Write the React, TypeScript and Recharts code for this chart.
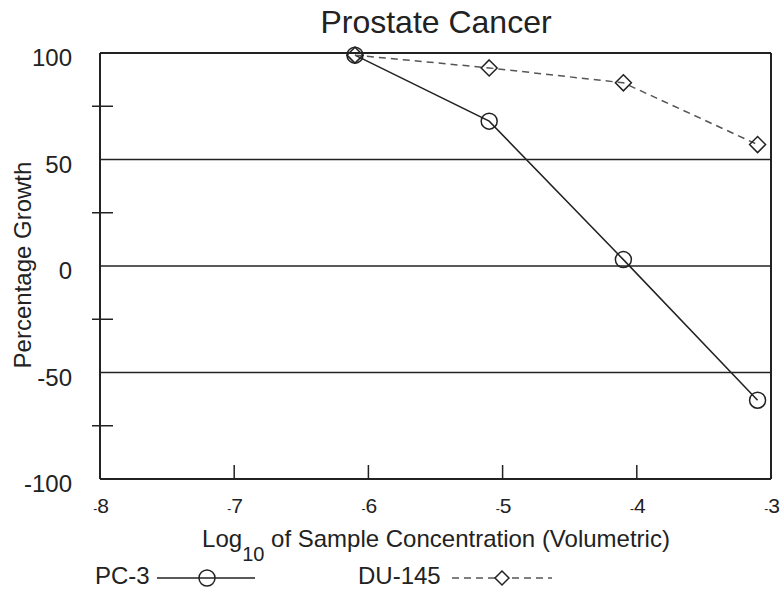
import { LineChart, Line, XAxis, YAxis, ReferenceLine, Legend } from 'recharts';

const concentrations = [-6.1, -5.1, -4.1, -3.1];
const pc3Growth = [99, 68, 3, -63];
const du145Growth = [99, 93, 86, 57];

const xTicks = [-8, -7, -6, -5, -4, -3];
const yTicks = [-100, -75, -50, -25, 0, 25, 50, 75, 100];
const gridValues = [100, 50, 0, -50, -100];

const data = concentrations.map((c, i) => ({ conc: c, pc3: pc3Growth[i], du145: du145Growth[i] }));

const FONT = '"Liberation Sans", Arial, sans-serif';
const INK = '#222';

const YTick = ({ x, y, payload }: any) => {
  const v = payload.value;
  const labelled = v % 50 === 0;
  return (
    <g>
      {!labelled && <line x1={x - 8} x2={x + 13} y1={y} y2={y} stroke={INK} strokeWidth={1.5} />}
      {labelled && (
        <text x={x - 28} y={y + 13} textAnchor="end" fontSize={24} fontFamily={FONT} fill={INK}>
          {v}
        </text>
      )}
    </g>
  );
};

const XTick = ({ x, y, payload }: any) => {
  const v = payload.value;
  const inner = v > -8 && v < -3;
  return (
    <g>
      {inner && <line x1={x} x2={x} y1={y - 14} y2={y} stroke={INK} strokeWidth={1.5} />}
      <text x={x + 1} y={y + 34} textAnchor="middle" fontSize={21} fontFamily={FONT} fill={INK}>
        <tspan fontSize={12}>-</tspan>
        <tspan>{Math.abs(v)}</tspan>
      </text>
    </g>
  );
};

const TopTick = ({ x, y, payload }: any) => {
  const v = payload.value;
  if (v <= -8 || v >= -3) return <g />;
  return <line x1={x} x2={x} y1={y} y2={y + 13} stroke={INK} strokeWidth={1.5} />;
};

const XLabel = () => (
  <text x={436} y={547} textAnchor="middle" fontSize={24} fontFamily={FONT} fill={INK}>
    Log
    <tspan fontSize={20} dy={14}>10</tspan>
    <tspan dy={-14}> of Sample Concentration (Volumetric)</tspan>
  </text>
);

const YLabel = () => (
  <text
    x={31}
    y={265}
    transform="rotate(-90 31 265)"
    textAnchor="middle"
    fontSize={24}
    fontFamily={FONT}
    fill={INK}
  >
    Percentage Growth
  </text>
);

const Diamond = ({ cx, cy }: any) => (
  <path d={`M${cx} ${cy - 8} L${cx + 8} ${cy} L${cx} ${cy + 8} L${cx - 8} ${cy} Z`} fill="none" stroke={INK} strokeWidth={1.5} />
);

const LegendContent = () => (
  <svg width={782} height={32}>
    <text x={95} y={24} fontSize={24} fontFamily={FONT} fill={INK}>PC-3</text>
    <line x1={157} x2={255} y1={18} y2={18} stroke={INK} strokeWidth={1.5} />
    <circle cx={207} cy={18} r={8} fill="none" stroke={INK} strokeWidth={1.5} />
    <text x={358} y={24} fontSize={24} fontFamily={FONT} fill={INK}>DU-145</text>
    <line x1={452} x2={552} y1={18} y2={18} stroke="#555" strokeWidth={1.5} strokeDasharray="7 5" />
    <path d="M502 11 L509 18 L502 25 L495 18 Z" fill="#fff" stroke={INK} strokeWidth={1.5} />
  </svg>
);

export default function App() {
  return (
    <div style={{ position: 'absolute', left: 0, top: 0, width: 782, height: 592, background: '#fff' }}>
      <div
        style={{
          position: 'absolute',
          left: 0,
          width: 872,
          top: 4,
          textAlign: 'center',
          fontFamily: FONT,
          fontSize: 32,
          color: INK,
        }}
      >
        Prostate Cancer
      </div>
      <LineChart width={782} height={592} data={data} margin={{ top: 53, right: 11, left: 0, bottom: 0 }}>
        <XAxis
          dataKey="conc"
          type="number"
          domain={[-8, -3]}
          ticks={xTicks}
          interval={0}
          height={113}
          tickLine={false}
          tickSize={0}
          tickMargin={0}
          axisLine={false}
          tick={<XTick />}
          label={<XLabel />}
        />
        <XAxis
          xAxisId="top"
          orientation="top"
          type="number"
          domain={[-8, -3]}
          ticks={xTicks}
          interval={0}
          height={0}
          tickLine={false}
          tickSize={0}
          tickMargin={0}
          axisLine={false}
          tick={<TopTick />}
        />
        <YAxis
          type="number"
          domain={[-100, 100]}
          ticks={yTicks}
          interval={0}
          width={100}
          tickLine={false}
          tickSize={0}
          tickMargin={0}
          axisLine={false}
          tick={<YTick />}
          label={<YLabel />}
        />
        {gridValues.map((v) => (
          <ReferenceLine key={v} y={v} stroke={INK} strokeWidth={v === 100 || v === -100 ? 2 : 1.5} />
        ))}
        <ReferenceLine x={-8} stroke={INK} strokeWidth={2} />
        <ReferenceLine x={-3} stroke={INK} strokeWidth={2} />
        <Legend
          layout="vertical"
          align="center"
          verticalAlign="middle"
          wrapperStyle={{ position: 'absolute', left: 0, top: 560, width: 782, height: 32 }}
          content={<LegendContent />}
        />
        <Line
          dataKey="pc3"
          name="PC-3"
          stroke={INK}
          strokeWidth={1.5}
          dot={{ r: 8, fill: 'none', stroke: INK, strokeWidth: 1.5 }}
          isAnimationActive={false}
        />
        <Line
          dataKey="du145"
          name="DU-145"
          stroke="#555"
          strokeWidth={1.5}
          strokeDasharray="7 5"
          dot={<Diamond />}
          isAnimationActive={false}
        />
      </LineChart>
    </div>
  );
}
